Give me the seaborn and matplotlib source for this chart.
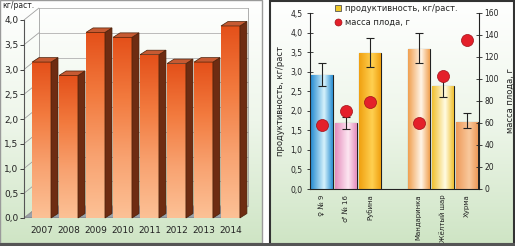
import numpy as np
import pandas as pd
import matplotlib
matplotlib.use('Agg')
import matplotlib.pyplot as plt
import seaborn as sns
from matplotlib.patches import Polygon, Rectangle
from matplotlib.lines import Line2D
from matplotlib.colors import LinearSegmentedColormap

# left chart: yield by year
years = ['2007', '2008', '2009', '2010', '2011', '2012', '2013', '2014']
yield_by_year = [3.15, 2.88, 3.75, 3.65, 3.30, 3.12, 3.15, 3.88]

# right chart: varieties
varieties = ['♀ № 9', '♂ № 16', 'Рубина', ' ', 'Мандаринка', 'Жёлтый шар', 'Хурма']
productivity = [2.91, 1.69, 3.48, np.nan, 3.58, 2.63, 1.72]
prod_low = [2.63, 1.53, 3.12, np.nan, 3.23, 2.36, 1.56]
prod_high = [3.22, 1.85, 3.86, np.nan, 3.99, 2.90, 1.94]
fruit_mass = [58, 71, 79, np.nan, 60, 103, 135]

bar_colors = [('#2a8ed2', '#d4f1fb'), ('#e48cbc', '#fde6f1'), ('#f0a010', '#ffd050'),
              (None, None), ('#f0a050', '#fff4e6'), ('#f0c030', '#fffbe2'),
              ('#ee9a5a', '#f9c89c')]

sns.set_style('white')
plt.rcParams['font.family'] = ['DejaVu Sans']

W, H = 515, 246
fig = plt.figure(figsize=(W / 100, H / 100), dpi=100)

# background panels in pixel coords
bg = fig.add_axes([0, 0, 1, 1])
bg.set_xlim(0, W)
bg.set_ylim(H, 0)
bg.axis('off')
green = LinearSegmentedColormap.from_list('g', ['#ffffff', '#eef6ea', '#cfe5c5'])
grad = np.linspace(0, 1, 200).reshape(-1, 1)
bg.imshow(grad, cmap=green, extent=(0, 262, 243, 0), aspect='auto')
bg.imshow(grad, cmap=green, extent=(270, 514, 243, 0), aspect='auto')
bg.add_patch(Rectangle((0, 0), 262, 243, fill=False, ec='#9a9a9a', lw=1))
bg.add_patch(Rectangle((270, 0.5), 244, 243, fill=False, ec='#333333', lw=1.5))
bg.add_patch(Rectangle((0, 243), W, 3, color='#555555', lw=0))
bg.text(2, 6, 'кг/раст.', fontsize=5.5, va='center', color='#222222')

# ---------- left: pseudo-3D bars ----------
ax1 = fig.add_axes([24 / W, 28 / H, 224 / W, 198 / H])
ax1.patch.set_alpha(0)
df1 = pd.DataFrame({'year': years, 'val': yield_by_year})
sns.barplot(data=df1, x='year', y='val', ax=ax1, width=0.7, color='#f07030',
            edgecolor='#4a2008', linewidth=0.5, zorder=3)
x0, x1 = -0.65, 7.65
ax1.set_xlim(x0, x1)
ax1.set_ylim(0, 4.0)
wdx, wdy = 0.55, 0.24   # back wall depth
bdx, bdy = 0.26, 0.09   # bar depth

ax1.add_patch(Polygon([(x0, 0), (x0 + wdx, wdy), (x1, wdy), (x1 - wdx, 0)],
                      closed=True, fc='#9aa2aa', ec='#6a6a6a', lw=0.5, zorder=1))
for t in np.arange(0, 4.01, 0.5):
    ax1.plot([x0, x0 + wdx], [t, t + wdy], color='#a0a0a0', lw=0.6, zorder=1, clip_on=False)
    ax1.plot([x0 + wdx, x1], [t + wdy, t + wdy], color='#b0b0b0', lw=0.6, zorder=1, clip_on=False)
ax1.plot([x0 + wdx, x0 + wdx], [wdy, 4 + wdy], color='#a0a0a0', lw=0.6, clip_on=False)
ax1.plot([x1, x1], [wdy, 4 + wdy], color='#a0a0a0', lw=0.6, clip_on=False)

orange = LinearSegmentedColormap.from_list('o', ['#e4501a', '#f27a3e', '#f8a270', '#fcc196'])
for p in ax1.patches:
    if not isinstance(p, Rectangle) or p.get_height() <= 0:
        continue
    x, w, h = p.get_x(), p.get_width(), p.get_height()
    im = ax1.imshow(grad, cmap=orange, extent=(x, x + w, 0, h), aspect='auto', zorder=3)
    im.set_clip_path(p)
    ax1.add_patch(Polygon([(x + w, 0), (x + w + bdx, bdy), (x + w + bdx, h + bdy), (x + w, h)],
                          closed=True, fc='#6e2c12', ec='#4a2008', lw=0.5, zorder=3, clip_on=False))
    ax1.add_patch(Polygon([(x, h), (x + bdx, h + bdy), (x + w + bdx, h + bdy), (x + w, h)],
                          closed=True, fc='#c65a32', ec='#4a2008', lw=0.5, zorder=3, clip_on=False))
ax1.set_xlim(x0, x1)
ax1.set_ylim(0, 4.0)
ax1.set_yticks(np.arange(0, 4.01, 0.5))
ax1.set_yticklabels([f'{t:.1f}'.replace('.', ',') for t in np.arange(0, 4.01, 0.5)])
ax1.tick_params(axis='y', length=3, width=0.6, labelsize=6.5, pad=1, colors='#222222', left=True)
ax1.tick_params(axis='x', length=0, labelsize=6.5, pad=6, colors='#222222')
ax1.set_xlabel('')
ax1.set_ylabel('')
for s in ['top', 'right', 'bottom']:
    ax1.spines[s].set_visible(False)
ax1.spines['left'].set_color('#555555')
ax1.spines['left'].set_linewidth(0.8)

# ---------- right: bars with error bars + fruit mass ----------
ax2 = fig.add_axes([310 / W, 57 / H, 169 / W, 176 / H])
ax2.patch.set_alpha(0)
df2 = pd.DataFrame({'sort': varieties, 'prod': productivity})
sns.barplot(data=df2, x='sort', y='prod', order=varieties, ax=ax2, width=0.9,
            color='#ffffff', edgecolor='#222222', linewidth=0.8, zorder=2)
bars = [p for p in ax2.patches if isinstance(p, Rectangle)]
for p in bars:
    if not np.isfinite(p.get_height()) or p.get_height() <= 0:
        continue
    i = int(round(p.get_x() + p.get_width() / 2))
    edge, light = bar_colors[i]
    cm = LinearSegmentedColormap.from_list('b', [edge, light, edge], N=256)
    hgrad = np.concatenate([np.linspace(0, 0.5, 60), np.linspace(0.5, 1, 40)]).reshape(1, -1)
    x, w, h = p.get_x(), p.get_width(), p.get_height()
    im = ax2.imshow(hgrad, cmap=cm, extent=(x, x + w, 0, h), aspect='auto', zorder=2)
    im.set_clip_path(p)

pos = np.arange(len(varieties))
prod = np.array(productivity)
yerr = np.vstack([prod - np.array(prod_low), np.array(prod_high) - prod])
ax2.errorbar(pos, prod, yerr=yerr, fmt='none', ecolor='#222222', elinewidth=0.8,
             capsize=3, capthick=0.8, zorder=4)
ax2.set_xlim(-0.5, 6.5)
ax2.set_ylim(0, 4.5)
ax2.set_yticks(np.arange(0, 4.51, 0.5))
ax2.set_yticklabels([f'{t:.1f}'.replace('.', ',') for t in np.arange(0, 4.51, 0.5)])
ax2.set_xticks(pos)
ax2.set_xticklabels(varieties, rotation=90, fontsize=5, color='#222222')
ax2.set_xticks(np.arange(-0.5, 6.6, 1), minor=True)
ax2.tick_params(axis='x', which='major', length=0, pad=4)
ax2.tick_params(axis='x', which='minor', length=2.5, width=0.6, direction='inout')
ax2.tick_params(axis='y', length=4, width=0.6, direction='inout', labelsize=5.5,
                colors='#222222', left=True)
ax2.set_xlabel('')
ax2.set_ylabel('продуктивность, кг/раст', fontsize=6, labelpad=4, color='#222222')
for s in ['top', 'right']:
    ax2.spines[s].set_visible(False)
ax2.spines['left'].set_color('#222222')
ax2.spines['bottom'].set_color('#222222')
ax2.spines['left'].set_linewidth(0.8)
ax2.spines['bottom'].set_linewidth(0.8)

ax3 = ax2.twinx()
sns.scatterplot(x=pos, y=fruit_mass, ax=ax3, s=75, color='#e4202a',
                edgecolor='#a01018', linewidth=0.5, zorder=5)
ax3.set_ylim(0, 160)
ax3.set_xlim(-0.5, 6.5)
ax3.set_yticks(np.arange(0, 161, 20))
ax3.tick_params(axis='y', length=4, width=0.6, direction='inout', labelsize=5.5,
                colors='#222222', right=True, pad=2)
ax3.set_ylabel('масса плода, г', fontsize=6, labelpad=5, color='#222222', rotation=90)
for s in ['top', 'left', 'bottom']:
    ax3.spines[s].set_visible(False)
ax3.spines['right'].set_color('#222222')
ax3.spines['right'].set_linewidth(0.8)

handles = [Line2D([], [], marker='s', ls='none', ms=5, mfc='#f0c828', mec='#555555', mew=0.6),
           Line2D([], [], marker='o', ls='none', ms=5, mfc='#e4202a', mec='#a01018', mew=0.5)]
fig.legend(handles, ['продуктивность, кг/раст.', 'масса плода, г'],
           loc='upper left', bbox_to_anchor=(330 / W, 1 - 0 / H), frameon=False,
           fontsize=6, handletextpad=0.3, labelspacing=0.6, borderaxespad=0.1,
           handlelength=1.0)

fig.savefig('out.png', dpi=100)
